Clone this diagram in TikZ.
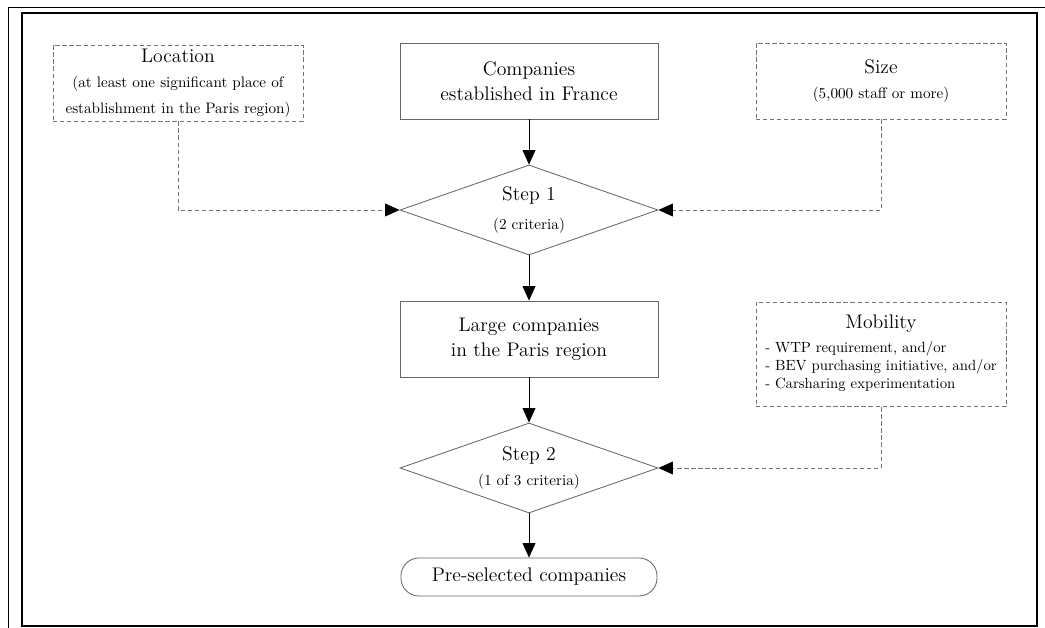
\documentclass[tikz,border=0pt]{standalone}
\usepackage{amsmath}
\usepackage{tikz}
\usetikzlibrary{shapes.geometric,arrows.meta}

\newcommand{\headtxt}{\fontsize{14}{18}\selectfont}
\newcommand{\subtxt}{\fontsize{10.8}{16}\selectfont}

\begin{document}
\begin{tikzpicture}[x=0.025cm,y=-0.025cm]
				\tikzstyle{box}=[draw=black!60,line width=0.6pt,minimum width=6.45cm,minimum height=1.9cm,align=center,inner sep=2pt,font=\headtxt]
				\tikzstyle{crit}=[draw=black!55,line width=0.6pt,dash pattern=on 3pt off 2pt,minimum width=6.25cm,minimum height=1.9cm,align=center,inner sep=2pt,font=\headtxt]
				\tikzstyle{stepbox}=[draw=black!60,line width=0.6pt,shape=diamond,aspect=2.85,inner sep=0pt,minimum width=6.45cm,minimum height=2.25cm,align=center,font=\headtxt]
				\tikzstyle{flow}=[-{Triangle[length=0.36cm,width=0.32cm]},line width=0.6pt]
				\tikzstyle{link}=[-{Triangle[length=0.36cm,width=0.32cm,color=black]},draw=black!55,line width=0.6pt,dash pattern=on 3pt off 2pt]
				
				\useasboundingbox (0,0) rectangle (1045,628);
				
				% frame
				\draw[line width=0.6pt] (8,628) -- (8,7) -- (1045,7);
				\draw[line width=1.6pt] (22,13) rectangle (1037,626);
				
				\node[crit](loc) at (178,83){Location\\\subtxt (at least one significant place of\\ \subtxt establishment in the Paris region)};
				\node[box](comp) at (529,81){Companies\\ established in France};
				\node[crit](size) at (881,81){Size\\\subtxt (5,000 staff or more)};
				
				\node[stepbox](s1) at (529,210){Step 1\\[3pt]\subtxt (2 criteria)};
				
				\node[box](large) at (529,339){Large companies\\ in the Paris region};
				\node[crit,minimum height=2.62cm](mob) at (881,354.5){Mobility\\[4pt]\fontsize{10.5}{13}\selectfont\begin{tabular}{@{}l@{}}
				- WTP requirement, and/or\\
				- BEV purchasing initiative, and/or\\
				- Carsharing experimentation\end{tabular}};
				
				\node[stepbox](s2) at (529,468){Step 2\\\subtxt (1 of 3 criteria)};
				
				\node[draw=black!60,line width=0.6pt,rounded corners=0.45cm,minimum width=6.4cm,minimum height=0.95cm,font=\headtxt](pre) at (529,577){Pre-selected companies};
				
				
				\draw[flow] (comp) -- (s1);
				\draw[flow] (s1) -- (large);
				\draw[flow] (large) -- (s2);
				\draw[flow] (s2) -- (pre);
				
				\draw[link] (loc.south) |- (s1.west);
				\draw[link] (size.south) |- (s1.east);
				\draw[link] (mob.south) |- (s2.east);
\end{tikzpicture}
\end{document}
